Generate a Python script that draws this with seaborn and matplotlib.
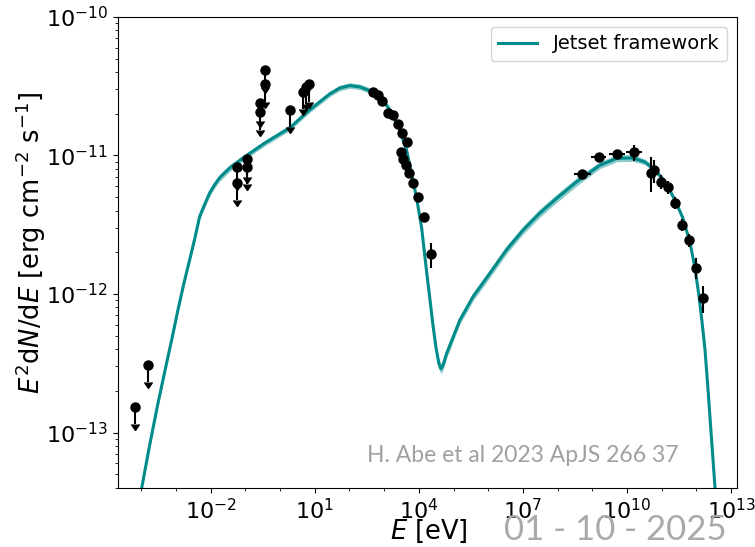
import numpy as np
import pandas as pd
import matplotlib
matplotlib.use("Agg")
import matplotlib.pyplot as plt
import matplotlib.ticker as mticker
import seaborn as sns

# model curve (log10 E [eV], log10 E^2dN/dE)
model_logE = [-3.99, -3.76, -3.53, -3.30, -3.125, -2.95, -2.78, -2.61, -2.46, -2.32,
              -2.17, -2.03, -1.885, -1.74, -1.60, -1.45, -1.08, -0.44, 0.28, 0.855,
              1.43, 1.72, 2.01, 2.30, 2.67, 2.96, 3.22, 3.45, 3.645, 3.79,
              3.93, 4.08, 4.22, 4.316, 4.40, 4.49, 4.576, 4.634, 4.69, 4.80,
              5.18, 5.56, 6.05, 6.53, 7.00, 7.49, 7.97, 8.55, 9.22, 9.71,
              10.17, 10.52, 10.81, 11.10, 11.38, 11.61, 11.82, 11.96, 12.075, 12.16,
              12.25, 12.335, 12.42, 12.54]
model_logF = [-13.40, -13.09, -12.80, -12.53, -12.33, -12.12, -11.93, -11.755, -11.60, -11.44,
              -11.35, -11.27, -11.21, -11.16, -11.126, -11.09, -11.02, -10.91, -10.80, -10.67,
              -10.556, -10.513, -10.495, -10.505, -10.54, -10.60, -10.69, -10.82, -10.96, -11.13,
              -11.30, -11.52, -11.83, -12.03, -12.21, -12.38, -12.50, -12.54, -12.52, -12.43,
              -12.19, -12.02, -11.85, -11.68, -11.54, -11.415, -11.31, -11.19, -11.07, -11.02,
              -11.018, -11.047, -11.105, -11.19, -11.32, -11.45, -11.63, -11.81, -12.01, -12.19,
              -12.40, -12.68, -12.98, -13.40]
band_dex = [0.02, 0.02, 0.02, 0.02, 0.02, 0.02, 0.02, 0.02, 0.02, 0.025,
            0.025, 0.025, 0.025, 0.025, 0.025, 0.025, 0.02, 0.02, 0.02, 0.02,
            0.02, 0.02, 0.02, 0.02, 0.02, 0.02, 0.02, 0.02, 0.02, 0.02,
            0.02, 0.02, 0.025, 0.03, 0.03, 0.035, 0.035, 0.035, 0.035, 0.035,
            0.03, 0.03, 0.03, 0.03, 0.03, 0.03, 0.03, 0.03, 0.025, 0.025,
            0.025, 0.02, 0.02, 0.02, 0.015, 0.015, 0.015, 0.015, 0.015, 0.015,
            0.015, 0.015, 0.015, 0.015]

# radio upper limits
radio_E = [6.5e-5, 1.52e-4]
radio_F = [1.53e-13, 3.07e-13]

# IR / optical / UV upper limits
opt_E = [0.0574, 0.0574, 0.1114, 0.1114, 0.2716, 0.2716, 0.378, 0.378, 1.90, 4.59, 5.50, 6.84]
opt_F = [8.3e-12, 6.35e-12, 9.4e-12, 8.3e-12, 2.38e-11, 2.05e-11, 4.14e-11, 3.27e-11,
         2.13e-11, 2.89e-11, 3.14e-11, 3.27e-11]

# X-ray points
xray_E = [480, 670, 895, 1300, 1742, 2427, 3296, 4498, 3162, 3524, 4207, 5248, 6839, 9354, 13930, 22180]
xray_F = [2.89e-11, 2.74e-11, 2.49e-11, 2.02e-11, 1.96e-11, 1.68e-11, 1.46e-11, 1.25e-11,
          1.06e-11, 9.4e-12, 8.54e-12, 7.44e-12, 6.37e-12, 4.99e-12, 3.61e-12, 1.93e-12]
xray_Flo = [0, 0, 0, 0, 0, 0, 0, 0, 0, 0, 0, 0, 0, 0, 0, 0.40e-12]
xray_Fhi = [0, 0, 0, 0, 0, 0, 0, 0, 0, 0, 0, 0, 0, 0, 0, 0.39e-12]

# gamma-ray points
gam_E = [4.92e8, 1.58e9, 5.04e9, 1.59e10, 4.81e10, 6.11e10, 9.53e10, 1.49e11, 2.42e11,
         3.85e11, 6.0e11, 9.55e11, 1.52e12]
gam_F = [7.31e-12, 9.8e-12, 1.02e-11, 1.06e-11, 7.43e-12, 7.85e-12, 6.47e-12, 5.89e-12,
         4.56e-12, 3.15e-12, 2.45e-12, 1.53e-12, 9.4e-13]
gam_Flo = [0.5e-12, 0.5e-12, 0.6e-12, 1.5e-12, 2.0e-12, 1.5e-12, 0.7e-12, 0.6e-12,
           0.45e-12, 0.3e-12, 0.25e-12, 0.25e-12, 0.21e-12]
gam_Fhi = [0.5e-12, 0.5e-12, 0.6e-12, 1.4e-12, 2.4e-12, 1.5e-12, 0.7e-12, 0.6e-12,
           0.45e-12, 0.3e-12, 0.25e-12, 0.3e-12, 0.2e-12]
gam_Elo = [2.96e8, 9.23e8, 3.1e9, 9.27e9, 4.81e10, 6.11e10, 9.53e10, 1.49e11, 2.42e11,
           3.85e11, 6.0e11, 9.55e11, 1.52e12]
gam_Ehi = [8.97e8, 2.5e9, 8.8e9, 2.81e10, 4.81e10, 6.11e10, 9.53e10, 1.49e11, 2.42e11,
           3.85e11, 6.0e11, 9.55e11, 1.52e12]

x_ticks = [1e-2, 1e1, 1e4, 1e7, 1e10, 1e13]

teal = "#008b8b"

fig, ax = plt.subplots(figsize=(7.55, 5.47), dpi=100)
fig.subplots_adjust(left=0.156, right=0.976, top=0.969, bottom=0.108)

E = 10 ** np.array(model_logE)
F = 10 ** np.array(model_logF)
band = np.array(band_dex)
ax.fill_between(E, F * 10 ** (-band), F * 10 ** band, color=teal, alpha=0.45, lw=0)
df = pd.DataFrame({"E": E, "F": F})
sns.lineplot(data=df, x="E", y="F", color=teal, lw=2.2, label="Jetset framework", ax=ax)

ul_style = dict(fmt="o", color="black", ms=6.5, elinewidth=1.5, uplims=True)
ax.errorbar(radio_E, radio_F, yerr=0.25 * np.array(radio_F), **ul_style)
ax.errorbar(opt_E, opt_F, yerr=0.25 * np.array(opt_F), **ul_style)

ax.errorbar(xray_E, xray_F, yerr=[xray_Flo, xray_Fhi], fmt="o", color="black", ms=6.5, elinewidth=1.5)
gE = np.array(gam_E)
ax.errorbar(gam_E, gam_F, yerr=[gam_Flo, gam_Fhi],
            xerr=[gE - np.array(gam_Elo), np.array(gam_Ehi) - gE],
            fmt="o", color="black", ms=6.5, elinewidth=1.5)

ax.set_xscale("log")
ax.set_yscale("log")
ax.set_xlim(10 ** -4.68, 10 ** 13.17)
ax.set_ylim(10 ** -13.40, 1e-10)
ax.xaxis.set_major_locator(mticker.FixedLocator(x_ticks))
ax.xaxis.set_minor_locator(mticker.LogLocator(base=10, subs=(1.0,), numticks=40))
ax.xaxis.set_minor_formatter(mticker.NullFormatter())
ax.tick_params(labelsize=16)
ax.set_xlabel(r"$E$ [eV]", fontsize=18.5)
ax.set_ylabel(r"$E^2{\rm d}N/{\rm d}E$ [erg cm$^{-2}$ s$^{-1}$]", fontsize=18.5)
ax.xaxis.set_label_coords(0.503, -0.064)
ax.yaxis.set_label_coords(-0.112, 0.52)
ax.legend(loc="upper right", fontsize=14)

ax.text(0.905, 0.068, "H. Abe et al 2023 ApJS 266 37", transform=ax.transAxes,
        ha="right", va="center", fontsize=16.5, color="#a0a0a0", family=["Lato", "DejaVu Sans"])
fig.text(0.963, 0.031, "01 - 10 - 2025", ha="right", va="center", fontsize=25,
         color="#aaaaaa", family=["Lato", "DejaVu Sans"])

fig.savefig("out.png", dpi=100)
